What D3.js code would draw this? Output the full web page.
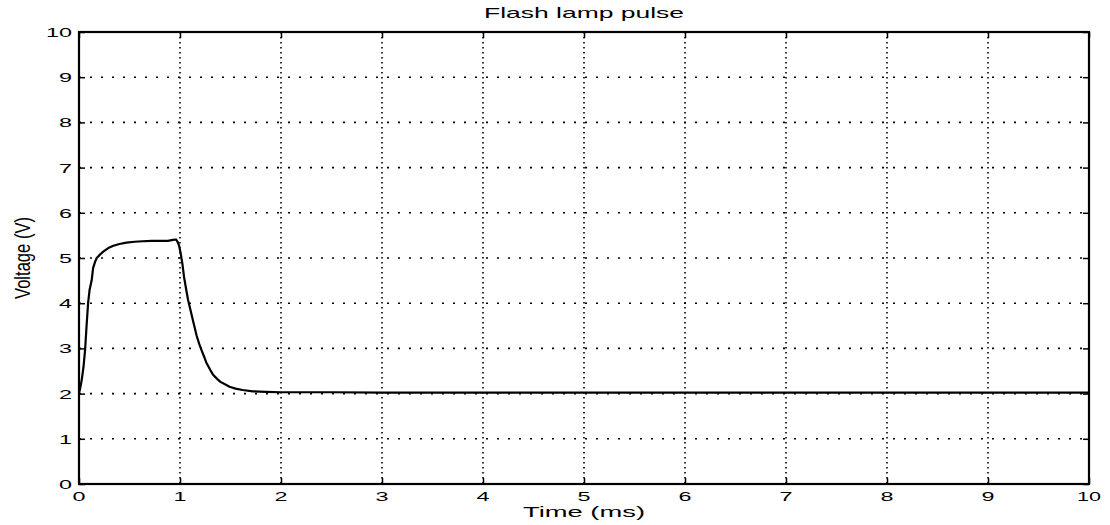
<!DOCTYPE html>
<html>
<head>
<meta charset="utf-8">
<script src="https://cdn.jsdelivr.net/npm/d3@7"></script>
<style>
  html, body { margin: 0; padding: 0; background: #fff; }
  svg text { font-family: "Liberation Sans", Arial, sans-serif; fill: #000; }
</style>
</head>
<body>
<svg id="chart" width="1110" height="525"></svg>
<script>
// Flash lamp pulse: voltage trace over time
const timeMs = [0.00, 0.01, 0.027, 0.045, 0.06, 0.075, 0.09, 0.105, 0.125, 0.14, 0.16, 0.175, 0.21, 0.24, 0.29, 0.34, 0.40, 0.47, 0.55, 0.63, 0.72, 0.80, 0.88, 0.93, 0.96, 0.975, 0.99, 1.007, 1.025, 1.04, 1.06, 1.08, 1.105, 1.13, 1.165, 1.19, 1.215, 1.24, 1.26, 1.30, 1.33, 1.37, 1.40, 1.45, 1.49, 1.55, 1.62, 1.72, 1.85, 2.0, 2.5, 3.0, 4.0, 5.0, 6.0, 7.0, 8.0, 9.0, 10.0];
const voltage = [2.02, 2.10, 2.30, 2.60, 2.96, 3.50, 4.00, 4.30, 4.50, 4.78, 4.92, 5.00, 5.08, 5.14, 5.22, 5.27, 5.31, 5.34, 5.36, 5.37, 5.38, 5.38, 5.38, 5.40, 5.41, 5.36, 5.28, 5.10, 4.85, 4.58, 4.32, 4.07, 3.84, 3.60, 3.28, 3.10, 2.95, 2.81, 2.69, 2.52, 2.41, 2.32, 2.26, 2.20, 2.15, 2.11, 2.08, 2.05, 2.04, 2.03, 2.03, 2.02, 2.02, 2.02, 2.02, 2.02, 2.02, 2.02, 2.02];
const xTicks = [0, 1, 2, 3, 4, 5, 6, 7, 8, 9, 10];
const yTicks = [0, 1, 2, 3, 4, 5, 6, 7, 8, 9, 10];
const titleText = "Flash lamp pulse";
const xLabelText = "Time (ms)";
const yLabelText = "Voltage (V)";

const svg = d3.select("#chart");
const margin = { left: 79, right: 21, top: 32, bottom: 41 };
const W = 1110, H = 525;

const x = d3.scaleLinear().domain([0, 10]).range([margin.left, W - margin.right]);
const y = d3.scaleLinear().domain([0, 10]).range([H - margin.bottom, margin.top]);

const g = svg.append("g");

// dotted grid
g.append("g").selectAll("line").data(xTicks.slice(1, -1)).join("line")
  .attr("x1", d => x(d)).attr("x2", d => x(d))
  .attr("y1", y(10)).attr("y2", y(0))
  .attr("stroke", "#000").attr("stroke-width", 1.6)
  .attr("stroke-dasharray", "1.6,3.4");

g.append("g").selectAll("line").data(yTicks.slice(1, -1)).join("line")
  .attr("x1", x(0)).attr("x2", x(10))
  .attr("y1", d => y(d)).attr("y2", d => y(d))
  .attr("stroke", "#000").attr("stroke-width", 1.6)
  .attr("stroke-dasharray", "2,9");

// axes with inward ticks
const tickLen = 6;
const axB = d3.axisBottom(x).tickValues(xTicks).tickSize(-tickLen).tickFormat("");
const axT = d3.axisTop(x).tickValues(xTicks).tickSize(-tickLen).tickFormat("");
const axL = d3.axisLeft(y).tickValues(yTicks).tickSize(-tickLen).tickFormat("");
const axR = d3.axisRight(y).tickValues(yTicks).tickSize(-tickLen).tickFormat("");
[[axB, `translate(0,${y(0)})`], [axT, `translate(0,${y(10)})`],
 [axL, `translate(${x(0)},0)`], [axR, `translate(${x(10)},0)`]].forEach(([ax, tr]) => {
  const a = g.append("g").attr("transform", tr).call(ax);
  a.select(".domain").remove();
  a.selectAll("line").attr("stroke", "#000").attr("stroke-width", 1.5);
});

// frame
g.append("rect")
  .attr("x", x(0)).attr("y", y(10))
  .attr("width", x(10) - x(0)).attr("height", y(0) - y(10))
  .attr("fill", "none").attr("stroke", "#000").attr("stroke-width", 2.2);

// tick labels
g.append("g").selectAll("text").data(xTicks).join("text")
  .attr("x", d => x(d)).attr("y", y(0) + 17)
  .attr("text-anchor", "middle")
  .attr("font-size", 13)
  .attr("textLength", d => d >= 10 ? 24 : 13)
  .attr("lengthAdjust", "spacingAndGlyphs")
  .text(d => d);

g.append("g").selectAll("text").data(yTicks).join("text")
  .attr("x", x(0) - 7).attr("y", d => y(d) + 5)
  .attr("text-anchor", "end")
  .attr("font-size", 13)
  .attr("textLength", d => d >= 10 ? 26 : 13)
  .attr("lengthAdjust", "spacingAndGlyphs")
  .text(d => d);

// voltage trace
const line = d3.line().x((d, i) => x(timeMs[i])).y((d, i) => y(voltage[i]));
g.append("path")
  .datum(voltage)
  .attr("d", line)
  .attr("fill", "none").attr("stroke", "#000").attr("stroke-width", 2.2)
  .attr("stroke-linejoin", "round");

// titles
svg.append("text")
  .attr("x", (x(0) + x(10)) / 2).attr("y", 18)
  .attr("text-anchor", "middle").attr("font-size", 15)
  .attr("textLength", 200).attr("lengthAdjust", "spacingAndGlyphs")
  .text(titleText);

svg.append("text")
  .attr("x", (x(0) + x(10)) / 2).attr("y", 517)
  .attr("text-anchor", "middle").attr("font-size", 14)
  .attr("textLength", 122).attr("lengthAdjust", "spacingAndGlyphs")
  .text(xLabelText);

svg.append("text")
  .attr("transform", `translate(30,${(y(0) + y(10)) / 2}) rotate(-90)`)
  .attr("text-anchor", "middle").attr("font-size", 22)
  .attr("textLength", 82).attr("lengthAdjust", "spacingAndGlyphs")
  .text(yLabelText);
</script>
</body>
</html>
